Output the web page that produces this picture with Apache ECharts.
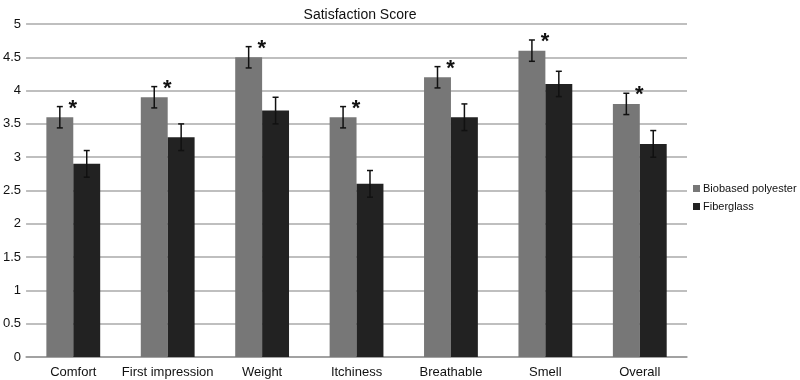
<!DOCTYPE html>
<html>
<head>
<meta charset="utf-8">
<script src="https://cdn.jsdelivr.net/npm/echarts@6/dist/echarts.min.js"></script>
<style>
html, body { margin: 0; padding: 0; background: #fff; }
#container { width: 800px; height: 380px; }
</style>
</head>
<body>
<div id="container"></div>
<script>
// data
var categories = ['Comfort', 'First impression', 'Weight', 'Itchiness', 'Breathable', 'Smell', 'Overall'];
var biobased = [3.6, 3.9, 4.5, 3.6, 4.2, 4.6, 3.8];
var fiberglass = [2.9, 3.3, 3.7, 2.6, 3.6, 4.1, 3.2];
var biobasedErr = [0.16, 0.16, 0.16, 0.16, 0.16, 0.16, 0.16];
var fiberglassErr = [0.2, 0.2, 0.2, 0.2, 0.2, 0.19, 0.2];
var significant = [1, 1, 1, 1, 1, 1, 1];   // asterisk above biobased bar

var catGap = 0.43;
var dom = document.getElementById('container');
var myChart = echarts.init(dom);

// error bar: side 0 = left bar, 1 = right bar
function errorBar(vals, errs, side, star) {
	return function (params, api) {
		var i = params.dataIndex;
		var c = api.coord([i, vals[i]]);
		var bandW = api.size([1, 0])[0];
		var barW = bandW * (1 - catGap) / 2;
		var x = c[0] + (side == 0 ? -barW / 2 : barW / 2);
		var top = api.coord([i, vals[i] + errs[i]])[1];
		var bot = api.coord([i, vals[i] - errs[i]])[1];
		var st = { stroke: '#111', lineWidth: 1.5 };
		var kids = [
			{ type: 'line', shape: { x1: x, y1: top, x2: x, y2: bot }, style: st },
			{ type: 'line', shape: { x1: x - 3, y1: top, x2: x + 3, y2: top }, style: st },
			{ type: 'line', shape: { x1: x - 3, y1: bot, x2: x + 3, y2: bot }, style: st }
		];
		if (star && significant[i]) {
			kids.push({
				type: 'text',
				style: {
					text: '*', x: x + 13, y: top + 2,
					fontSize: 22, fontWeight: 'bold', fill: '#111',
					fontFamily: 'Liberation Sans',
					align: 'center', verticalAlign: 'middle'
				}
			});
		}
		return { type: 'group', children: kids };
	};
}

myChart.setOption({
	animation: false,
	textStyle: { fontFamily: 'Liberation Sans' },
	title: {
		text: 'Satisfaction Score',
		left: 355, top: 3, textAlign: 'center',
		textStyle: { fontSize: 14, fontWeight: 'normal', color: '#111', fontFamily: 'Liberation Sans' }
	},
	legend: {
		orient: 'vertical',
		left: 688, top: 178,
		itemWidth: 7, itemHeight: 7, itemGap: 7,
		icon: 'rect',
		textStyle: { fontSize: 11, color: '#111', padding: [0, 0, 0, -2] },
		data: ['Biobased polyester', 'Fiberglass']
	},
	grid: { left: 22, right: 113, top: 24, bottom: 23, containLabel: false },
	xAxis: {
		type: 'category',
		data: categories,
		axisLine: { lineStyle: { color: '#999', width: 1.5 } },
		axisTick: { show: false },
		axisLabel: { fontSize: 13, color: '#111', margin: 9, interval: 0 }
	},
	yAxis: {
		type: 'value',
		min: 0, max: 5, interval: 0.5,
		axisLine: { show: false },
		axisTick: { show: false },
		splitLine: { lineStyle: { color: '#aaa', width: 1.5 } },
		axisLabel: { fontSize: 13, color: '#111', margin: 5 }
	},
	series: [
		{
			name: 'Biobased polyester', type: 'bar', data: biobased,
			barGap: 0, barCategoryGap: (catGap * 100) + '%',
			itemStyle: { color: '#777777' }
		},
		{
			name: 'Fiberglass', type: 'bar', data: fiberglass,
			itemStyle: { color: '#222222' }
		},
		{
			type: 'custom', renderItem: errorBar(biobased, biobasedErr, 0, true),
			data: biobased, z: 5, silent: true
		},
		{
			type: 'custom', renderItem: errorBar(fiberglass, fiberglassErr, 1, false),
			data: fiberglass, z: 5, silent: true
		}
	]
});
</script>
</body>
</html>
